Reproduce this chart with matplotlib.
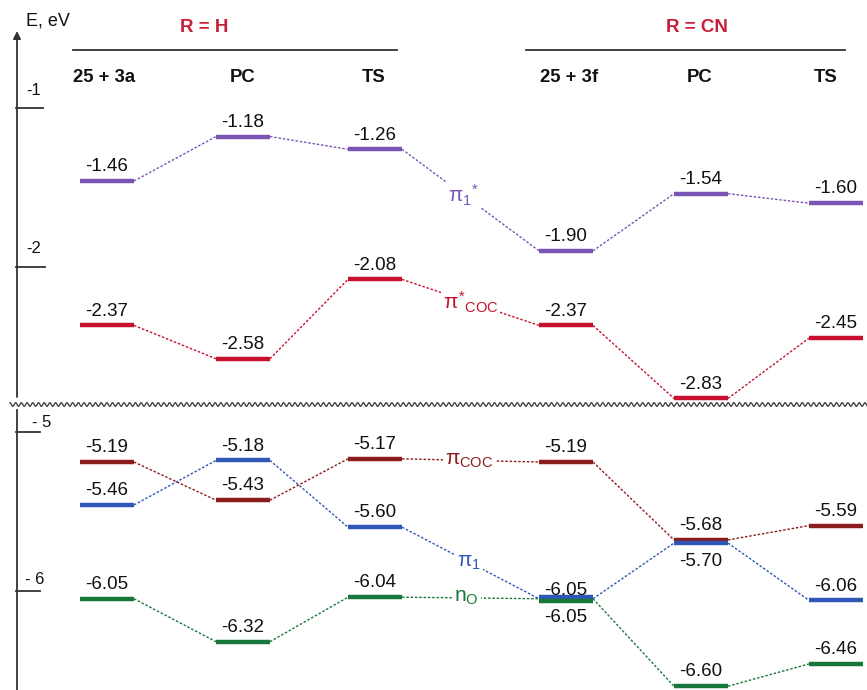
import numpy as np
import matplotlib
matplotlib.use('Agg')
import matplotlib.pyplot as plt
from matplotlib import transforms

plt.rcParams['font.family'] = ['Liberation Sans', 'DejaVu Sans']
plt.rcParams['mathtext.fontset'] = 'custom'
plt.rcParams['mathtext.rm'] = 'Liberation Sans'
plt.rcParams['mathtext.it'] = 'Liberation Sans'
plt.rcParams['mathtext.bf'] = 'Liberation Sans:bold'

# orbital energies, eV
states = ['25 + 3a', 'PC', 'TS', '25 + 3f', 'PC', 'TS']
groups = ['R = H', 'R = CN']
pi1_star = [-1.46, -1.18, -1.26, -1.90, -1.54, -1.60]
pi_star_coc = [-2.37, -2.58, -2.08, -2.37, -2.83, -2.45]
pi_coc = [-5.19, -5.43, -5.17, -5.19, -5.68, -5.59]
pi1 = [-5.46, -5.18, -5.60, -6.05, -5.70, -6.06]
n_o = [-6.05, -6.32, -6.04, -6.05, -6.60, -6.46]

W, H = 867, 690
brk = 403
xs = [107, 243, 375, 566, 701, 836]
head_x = [104, 243, 374, 569, 700, 826]
half = 27
ink = '#333333'

fig = plt.figure(figsize=(W / 100, H / 100), dpi=100)

# pixel-space layer for the frame decorations
deco = fig.add_axes([0, 0, 1, 1])
deco.set_xlim(0, W)
deco.set_ylim(H, 0)
deco.axis('off')

top = fig.add_axes([0, (H - brk) / H, 1, brk / H])
top.set_xlim(0, W)
top.set_ylim(-1 - (brk - 108) / 158.7, -1 + 108 / 158.7)
bot = fig.add_axes([0, 0, 1, (H - brk) / H])
bot.set_xlim(0, W)
bot.set_ylim(-5 - (H - 431.8) / 159, -5 + (431.8 - brk) / 159)
for a in (top, bot):
    a.axis('off')

# energy axis with arrow, broken by a wavy line
deco.annotate('', xy=(17, 31), xytext=(17, 397),
              arrowprops=dict(arrowstyle='-|>', color=ink, lw=1.3,
                              mutation_scale=11, shrinkA=0, shrinkB=0))
deco.plot([17, 17], [410, H], color=ink, lw=1.3)
deco.text(26, 21, 'E, eV', fontsize=13, ha='left', va='center', color='#111')
xw = np.linspace(10, W, 3000)
deco.plot(xw, 404.5 + 1.8 * np.sin(2 * np.pi * xw / 5.7), color='#444', lw=1.0)

for ax, val, txt, x0, length, dy in [(top, -1, '-1', 26, 43, 9.5),
                                     (top, -2, '-2', 26, 45, 10),
                                     (bot, -5, '- 5', 32, 40, 3.6),
                                     (bot, -6, '- 6', 25, 40, 5)]:
    ax.plot([16, length], [val, val], color=ink, lw=1.3)
    ax.annotate(txt, xy=(x0, val), xytext=(0, dy), textcoords='offset points',
                ha='left', va='baseline', fontsize=12, color='#111')

# group headers
for title, (x0, x1), xc in zip(groups, [(73, 397), (526, 845)], [204, 697]):
    deco.text(xc, 28, title, color='#c81e3a', fontweight='bold', fontsize=13.5,
              ha='center', va='center')
    deco.plot([x0, x1], [50, 50], color=ink, lw=1.3)
for xc, s in zip(head_x, states):
    deco.text(xc, 78, s, fontweight='bold', fontsize=13.3, ha='center',
              va='center', color='#111')

series = [
    (top, pi1_star, '#7b55b3', r'$\pi_1{}^{*}$', 0.45),
    (top, pi_star_coc, '#c8102e', r'$\pi^{*}{}_{\rm COC}$', 0.50),
    (bot, pi_coc, '#8b1c1c', r'$\pi_{\rm COC}$', 0.49),
    (bot, pi1, '#2f57b5', r'$\pi_1$', 0.49),
    (bot, n_o, '#18773a', r'$n_{\rm O}$', 0.47),
]
# small vertical shifts (points) for coincident levels, and label offsets
nudge = {(3, 3): 1.6, (4, 3): -1.6}
label_dy = {(3, 3): 3, (3, 4): -7, (4, 3): -7.5}

for k, (ax, E, color, name, t) in enumerate(series):
    for i in range(len(E) - 1):
        ax.plot([xs[i] + half, xs[i + 1] - half], [E[i], E[i + 1]], color=color,
                lw=1.0, linestyle=(0, (1.8, 1.3)), zorder=1)
    for i, (x, e) in enumerate(zip(xs, E)):
        tr = transforms.offset_copy(ax.transData, fig=fig,
                                    y=nudge.get((k, i), 0), units='points')
        ax.plot([x - half, x + half], [e, e], color=color, lw=3.2,
                solid_capstyle='butt', transform=tr, zorder=3)
        dy = label_dy.get((k, i), 7)
        ax.annotate(f'{e:.2f}', xy=(x, e), xytext=(0, dy),
                    textcoords='offset points', ha='center',
                    va='baseline' if dy > 0 else 'top', fontsize=13.5,
                    color='#111', zorder=4)
    xa, xb = xs[2] + half, xs[3] - half
    ax.text(xa + t * (xb - xa), E[2] + t * (E[3] - E[2]), name, color=color,
            fontsize=15, ha='center', va='center', zorder=2,
            bbox=dict(fc='white', ec='none', pad=1.5))

fig.savefig('out.png', dpi=100)
